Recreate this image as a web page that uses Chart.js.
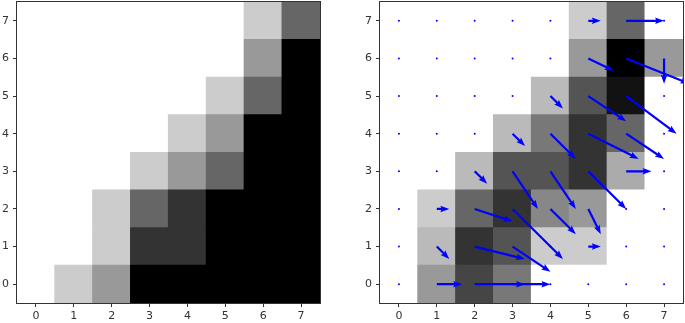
<!DOCTYPE html>
<html>
<head>
<meta charset="utf-8">
<script src="https://cdn.jsdelivr.net/npm/chart.js@4.4.0/dist/chart.umd.min.js"></script>
<style>
body { margin: 0; background: #fff; }
#wrap { position: relative; width: 685px; height: 323px; }
canvas { position: absolute; top: 0; }
</style>
</head>
<body>
<div id="wrap">
<canvas id="imgLeft" width="340" height="323" style="left:0"></canvas>
<canvas id="imgRight" width="345" height="323" style="left:340px"></canvas>
</div>
<script>
var xLabels = ['0', '1', '2', '3', '4', '5', '6', '7'];
var yTicks = [0, 1, 2, 3, 4, 5, 6, 7];

// pixel intensities (0 = white, 1 = black), row y=0 first
var leftRows = [
    [0, 0.2, 0.4, 1, 1, 1, 1, 1],
    [0, 0, 0.2, 0.8, 0.8, 1, 1, 1],
    [0, 0, 0.2, 0.6, 0.8, 1, 1, 1],
    [0, 0, 0, 0.2, 0.4, 0.6, 1, 1],
    [0, 0, 0, 0, 0.2, 0.4, 1, 1],
    [0, 0, 0, 0, 0, 0.2, 0.6, 1],
    [0, 0, 0, 0, 0, 0, 0.4, 1],
    [0, 0, 0, 0, 0, 0, 0.2, 0.6]
];
var rightRows = [
    [0, 0.4, 0.73, 0.53, 0, 0, 0, 0],
    [0, 0.27, 0.8, 0.67, 0.2, 0.2, 0, 0],
    [0, 0.2, 0.6, 0.8, 0.47, 0.4, 0, 0],
    [0, 0, 0.27, 0.67, 0.67, 0.8, 0.33, 0],
    [0, 0, 0, 0.27, 0.53, 0.8, 0.6, 0],
    [0, 0, 0, 0, 0.27, 0.67, 0.93, 0],
    [0, 0, 0, 0, 0, 0.4, 1, 0.4],
    [0, 0, 0, 0, 0, 0.2, 0.6, 0]
];

// flow vectors at each grid point, row y=0 first
var arrowU = [
    [0, 0.67, 1.33, 1, 0, 0, 0, 0],
    [0, 0.33, 1.33, 1, 0, 0.33, 0, 0],
    [0, 0.33, 1, 1.33, 0.67, 0.33, 0, 0],
    [0, 0, 0.33, 0.67, 0.67, 1, 0.67, 0],
    [0, 0, 0, 0.33, 0.67, 1.33, 1, 0],
    [0, 0, 0, 0, 0.33, 1, 1.33, 0],
    [0, 0, 0, 0, 0, 0.67, 1.67, 0],
    [0, 0, 0, 0, 0, 0.33, 1, 0]
];
var arrowV = [
    [0, 0, 0, 0, 0, 0, 0, 0],
    [0, -0.33, -0.33, -0.67, 0, 0, 0, 0],
    [0, 0, -0.33, -1.33, -0.67, -0.67, 0, 0],
    [0, 0, -0.33, -1, -1, -1, 0, 0],
    [0, 0, 0, -0.33, -0.67, -0.67, -0.67, 0],
    [0, 0, 0, 0, -0.33, -0.67, -1, 0],
    [0, 0, 0, 0, 0, -0.33, -0.67, -0.67],
    [0, 0, 0, 0, 0, 0, 0, 0]
];

function grayOf(v) {
    var c = Math.round(255 * (1 - v));
    return 'rgb(' + c + ',' + c + ',' + c + ')';
}

function cellDatasets(rows) {
    var sets = [];
    rows.forEach(function (row, r) {
        sets.push({
            data: row.map(function () { return [r - 0.5, r + 0.5]; }),
            backgroundColor: row.map(grayOf),
            borderWidth: 0,
            inflateAmount: 0.6,
            grouped: false,
            barPercentage: 1,
            categoryPercentage: 1
        });
    });
    return sets;
}

var framePlugin = {
    id: 'frame',
    afterDraw: function (chart) {
        var a = chart.chartArea;
        var ctx = chart.ctx;
        ctx.save();
        ctx.strokeStyle = '#333';
        ctx.lineWidth = 1;
        ctx.strokeRect(Math.round(a.left) - 0.5, Math.round(a.top) - 0.5,
            Math.round(a.right - a.left) + 1, Math.round(a.bottom - a.top) + 1);
        ctx.restore();
    }
};

function drawArrow(ctx, x0, y0, x1, y1) {
    var dx = x1 - x0, dy = y1 - y0;
    var len = Math.sqrt(dx * dx + dy * dy);
    var w = 2.2, hl = 9, hal = 8, hw = 6.5;
    if (len < hl * 1.2) {
        var k = len / (hl * 1.2);
        w *= k; hl *= k; hal *= k; hw *= k;
    }
    var ux = dx / len, uy = dy / len;
    var nx = -uy, ny = ux;
    function pt(along, side) {
        return [x0 + ux * along + nx * side, y0 + uy * along + ny * side];
    }
    var pts = [
        pt(0, w / 2), pt(len - hal, w / 2), pt(len - hl, hw / 2),
        pt(len, 0),
        pt(len - hl, -hw / 2), pt(len - hal, -w / 2), pt(0, -w / 2)
    ];
    ctx.beginPath();
    ctx.moveTo(pts[0][0], pts[0][1]);
    for (var i = 1; i < pts.length; i++) ctx.lineTo(pts[i][0], pts[i][1]);
    ctx.closePath();
    ctx.fill();
}

var quiverPlugin = {
    id: 'quiver',
    afterDatasetsDraw: function (chart) {
        var xs = chart.scales.x, ys = chart.scales.y;
        var a = chart.chartArea;
        var ctx = chart.ctx;
        ctx.save();
        ctx.beginPath();
        ctx.rect(a.left, a.top, a.right - a.left, a.bottom - a.top);
        ctx.clip();
        ctx.fillStyle = '#0000ff';
        for (var r = 0; r < arrowU.length; r++) {
            for (var c = 0; c < arrowU[r].length; c++) {
                var u = arrowU[r][c], v = arrowV[r][c];
                var x0 = xs.getPixelForValue(c), y0 = ys.getPixelForValue(r);
                if (u === 0 && v === 0) {
                    ctx.beginPath();
                    ctx.arc(x0, y0, 1, 0, Math.PI * 2);
                    ctx.fill();
                } else {
                    drawArrow(ctx, x0, y0, xs.getPixelForValue(c + u), ys.getPixelForValue(r + v));
                }
            }
        }
        ctx.restore();
    }
};

function axisOptions(yWidth) {
    var tickFont = { family: 'DejaVu Sans', size: 11 };
    return {
        x: {
            offset: true,
            grid: { display: true, drawOnChartArea: false, drawTicks: true, tickLength: 4, color: '#333', offset: false },
            border: { display: false },
            ticks: { color: '#333', font: tickFont, padding: 3, maxRotation: 0, autoSkip: false },
            afterFit: function (scale) {
                scale.height = 20;
                scale.paddingLeft = 0;
                scale.paddingRight = 0;
            }
        },
        y: {
            type: 'linear',
            min: -0.5,
            max: 7.5,
            grid: { display: true, drawOnChartArea: false, drawTicks: true, tickLength: 4, color: '#333' },
            border: { display: false },
            ticks: { color: '#333', font: tickFont, padding: 4 },
            afterBuildTicks: function (scale) {
                scale.ticks = yTicks.map(function (t) { return { value: t }; });
            },
            afterFit: function (scale) {
                scale.width = yWidth;
                scale.paddingTop = 0;
                scale.paddingBottom = 0;
            }
        }
    };
}

function CreateImage(canvasId, rows, yWidth, padRight, extraPlugins) {
    var ctx = document.getElementById(canvasId).getContext('2d');
    return new Chart(ctx, {
        type: 'bar',
        data: {
            labels: xLabels,
            datasets: cellDatasets(rows)
        },
        options: {
            responsive: false,
            animation: false,
            devicePixelRatio: 1,
            layout: { padding: { top: 2, right: padRight, bottom: 0, left: 0 } },
            plugins: { legend: { display: false }, tooltip: { enabled: false } },
            scales: axisOptions(yWidth)
        },
        plugins: [framePlugin].concat(extraPlugins)
    });
}

CreateImage('imgLeft', leftRows, 17, 20, []);
CreateImage('imgRight', rightRows, 40, 2, [quiverPlugin]);
</script>
</body>
</html>
